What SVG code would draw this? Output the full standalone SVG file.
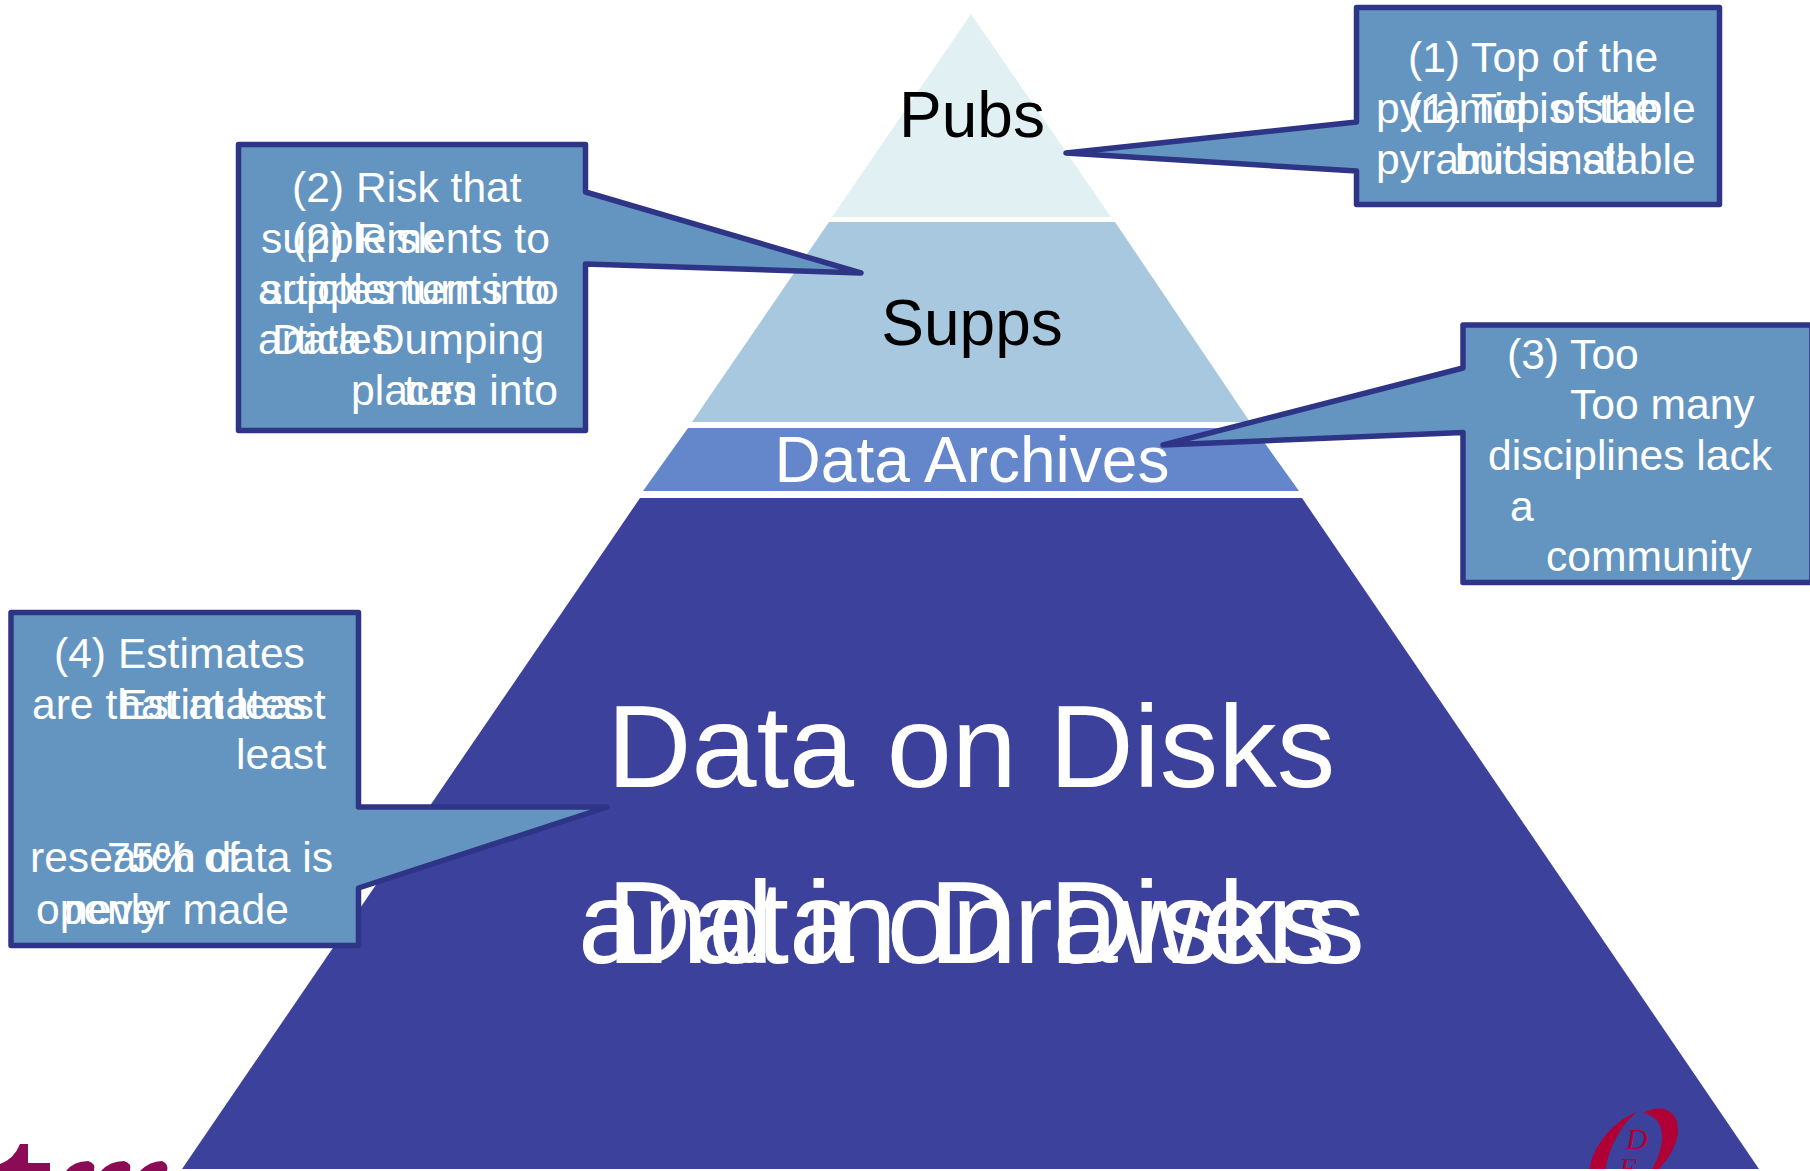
<svg xmlns="http://www.w3.org/2000/svg" width="1810" height="1171" viewBox="0 0 1810 1171">
<style>
text{font-family:"Liberation Sans",Arial,sans-serif;white-space:pre}
.c{fill:#6495C1;stroke:#2E3586;stroke-width:5.5;stroke-linejoin:round}
.t{font-size:42.6px;fill:#fff}
.b{font-size:64px;text-anchor:middle}
.h{font-size:117px;fill:#fff}
</style>
<defs><clipPath id="clipLogo"><rect x="1560" y="1090" width="150" height="79"/></clipPath></defs>
<rect width="1810" height="1171" fill="#fff"/>
<g id="tier-pubs"><polygon points="971,14 1111,217 832,217" fill="#E1F0F3"/><text class="b" x="972" y="137" fill="#000">Pubs</text></g>
<g id="tier-supps"><polygon points="829,222 1115,222 1250,422 692,422" fill="#A8C8DF"/><text class="b" x="972" y="345" fill="#000">Supps</text></g>
<g id="tier-archives"><polygon points="688,428 1254,428 1299,491 643,491" fill="#6487CC"/><text class="b" x="972" y="482" fill="#fff">Data Archives</text></g>
<g id="tier-disks"><polygon points="640,498 1302,498 1759,1169 182,1169" fill="#3C419B"/>
<text class="h" x="607" y="787">Data on Disks</text>
<text class="h" x="607" y="963">Data on Disks</text>
<text class="h" x="578" y="963">and in Drawers</text></g>
<g id="logo-left" fill="#8B0B55"><path d="M0,1171 L0,1164 Q14,1159 20,1144 L28,1144 L28,1163 L50,1163 L50,1171 Z"/><path d="M66,1171 Q74,1161 88,1161 Q96,1163 94,1171 Z"/><path d="M101,1171 Q110,1161 124,1161 Q132,1163 130,1171 Z"/><path d="M140,1171 Q150,1161 162,1161 Q169,1164 167,1171 Z"/></g>
<g id="logo-right" clip-path="url(#clipLogo)" fill="#B00035"><path d="M1644,1113 C1658,1104 1678,1108 1678,1130 C1678,1145 1668,1160 1656,1172 L1650,1172 C1662,1155 1672,1120 1644,1113 Z"/><path d="M1637,1112 C1615,1120 1592,1145 1589,1172 L1605,1172 C1608,1150 1620,1125 1637,1112 Z"/><text x="1626" y="1149" font-size="30" font-style="italic" style="font-family:'Liberation Serif',serif">D</text><text x="1619" y="1178" font-size="30" font-style="italic" style="font-family:'Liberation Serif',serif">E</text></g>
<g id="callout-1"><path class="c" d="M1356.5,7.5 H1719.5 V204.5 H1356.5 V171 L1066,153 L1356.5,122 Z"/>
<text class="t" x="1408" y="72">(1) Top of the</text>
<text class="t" x="1376" y="123">pyramid is stable</text><text class="t" x="1408" y="123">(1) Top of the</text>
<text class="t" x="1376" y="174">pyramid is stable</text><text class="t" x="1455" y="174">but small</text></g>
<g id="callout-2"><path class="c" d="M238.5,144.5 H585.5 V192 L861,273 L585.5,264 V430.5 H238.5 Z"/>
<text class="t" x="292" y="202">(2) Risk that</text>
<text class="t" x="261" y="253">supplements to</text><text class="t" x="292" y="253">(2) Risk</text>
<text class="t" x="258" y="304">articles turn into</text><text class="t" x="261" y="304">supplements to</text>
<text class="t" x="258" y="354">articles</text><text class="t" x="272" y="354">Data Dumping</text>
<text class="t" x="351" y="405">places</text><text class="t" x="404" y="405">turn into</text></g>
<g id="callout-3"><path class="c" d="M1463,325 H1812 V582.5 H1463 V432.5 L1163,445 L1463,368 Z"/>
<text class="t" x="1507" y="369">(3) Too</text>
<text class="t" x="1570" y="419">Too many</text>
<text class="t" x="1488" y="470">disciplines lack</text>
<text class="t" x="1510" y="521">a</text>
<text class="t" x="1546" y="571">community</text></g>
<g id="callout-4"><path class="c" d="M11,612.5 H358.5 V807 H607 L358.5,888 V945.5 H11 Z"/>
<text class="t" x="54" y="668">(4) Estimates</text>
<text class="t" x="32" y="719">are that at least</text><text class="t" x="119" y="719">Estimates</text>
<text class="t" x="236" y="769">least</text>
<text class="t" x="30" y="872">research data is</text><text class="t" x="107" y="872">75% of</text>
<text class="t" x="36" y="924">openly</text><text class="t" x="64" y="924">never made</text></g>
<g id="connectors"></g>
</svg>
